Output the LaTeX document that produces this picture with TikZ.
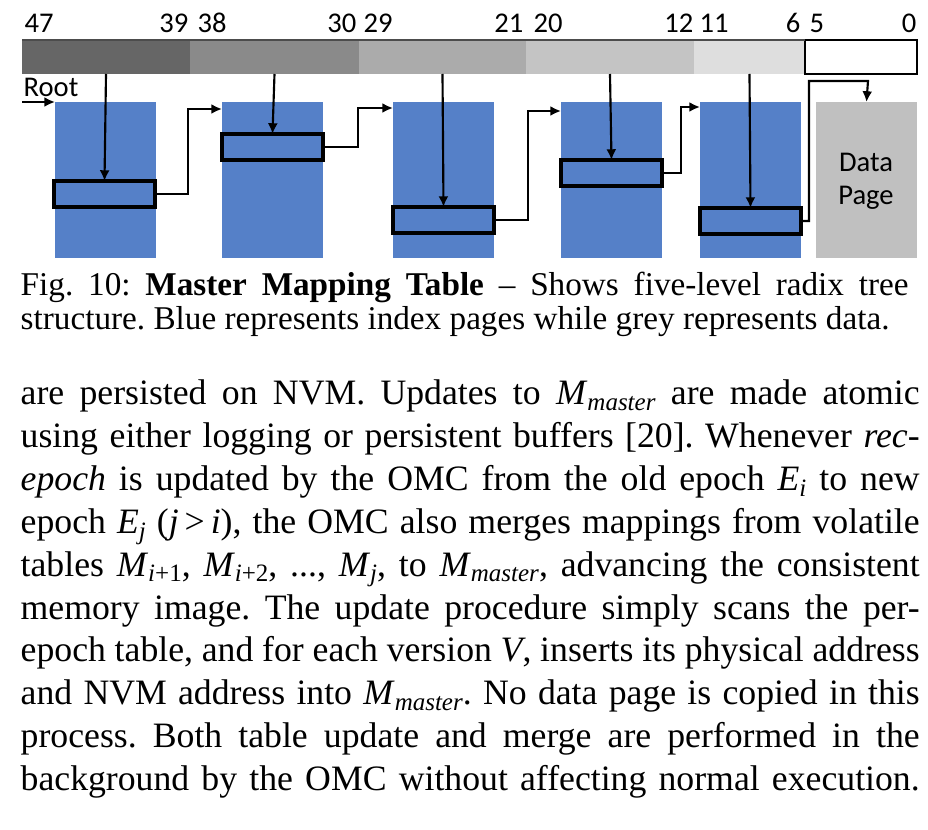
\documentclass[tikz,border=0pt]{standalone}
\usepackage{fontspec}
\setmainfont{Liberation Serif}
\newfontfamily\calibri{Carlito}
\usetikzlibrary{arrows.meta,calc}
\frenchspacing

\definecolor{idxblue}{RGB}{85,128,200}
\definecolor{datagrey}{RGB}{192,192,192}

% italic symbol with a small lowered index
\newcommand{\sym}[2]{\textit{#1}\raisebox{-0.35ex}{\fontsize{7}{7}\selectfont #2}}
\newcommand{\fullline}[1]{\makebox[251.72pt][s]{#1}}

\tikzset{
  seg/.style={minimum height=34*0.28pt, inner sep=0pt, outer sep=0pt},
  bits/.style={font=\calibri\fontsize{8}{9}\selectfont, inner sep=0pt},
  idxpage/.style={fill=idxblue, minimum width=101*0.28pt, minimum height=156*0.28pt,
    inner sep=0pt, outer sep=0pt, anchor=north west},
  entry/.style={draw=black, line width=0.85pt, fill=idxblue, minimum width=101*0.28pt,
    minimum height=26*0.28pt, inner sep=0pt, outer sep=0pt, anchor=north west},
  link/.style={line width=0.6pt, -{Latex[length=3pt,width=2.8pt]}},
  txt/.style={font=\fontsize{10}{12}\selectfont, inner sep=0pt, anchor=base west},
  captxt/.style={font=\fontsize{9.3}{10}\selectfont, inner sep=0pt, anchor=base west}
}

\begin{document}
\begin{tikzpicture}[x=0.28pt, y=-0.28pt]
\useasboundingbox (0,0) rectangle (928,830);

% address bar
\node[seg, fill=black!60, minimum width=168*0.28pt, anchor=north west] (seg1) at (22,40) {};
\node[seg, fill=black!46, minimum width=169*0.28pt, anchor=north west] (seg2) at (190,40) {};
\node[seg, fill=black!33, minimum width=167*0.28pt, anchor=north west] (seg3) at (359,40) {};
\node[seg, fill=black!23, minimum width=168*0.28pt, anchor=north west] (seg4) at (526,40) {};
\node[seg, fill=black!13, minimum width=111*0.28pt, anchor=north west] (seg5) at (694,40) {};
\node[seg, fill=white, draw=black, line width=0.5pt, minimum width=112*0.28pt, anchor=north west] (seg6) at (805,40) {};
\draw[black!70, line width=0.3pt] (seg1.north west) -- (seg6.north west);

% bit numbers
\node[bits, anchor=base west] (b47) at (24,33) {47};
\node[bits, anchor=base east] (b39) at (189,33) {39};
\node[bits, anchor=base west] (b38) at (197,33) {38};
\node[bits, anchor=base east] (b30) at (357,33) {30};
\node[bits, anchor=base west] (b29) at (363,33) {29};
\node[bits, anchor=base east] (b21) at (524,33) {21};
\node[bits, anchor=base west] (b20) at (533,33) {20};
\node[bits, anchor=base east] (b12) at (694,33) {12};
\node[bits, anchor=base west] (b11) at (699,33) {11};
\node[bits, anchor=base east] (b6) at (801,33) {6};
\node[bits, anchor=base west] (b5) at (809,33) {5};
\node[bits, anchor=base east] (b0) at (917,33) {0};

% index pages and data page
\node[idxpage] (blk1) at (55,102) {};
\node[idxpage] (blk2) at (222,102) {};
\node[idxpage] (blk3) at (393,102) {};
\node[idxpage] (blk4) at (561,102) {};
\node[idxpage] (blk5) at (700,102) {};
\node[idxpage, fill=datagrey] (data) at (816,102) {};
\node[font=\calibri\fontsize{8}{9.3}\selectfont, align=center] (datatxt) at (866,181) {Data\\Page};

% entries
\node[entry] (ent1) at (54,181) {};
\node[entry] (ent2) at (222,134) {};
\node[entry] (ent3) at (393,207) {};
\node[entry] (ent4) at (561,160) {};
\node[entry] (ent5) at (700,208) {};

% root pointer
\coordinate (rootin) at (22,102);
\node[bits, anchor=base west] (root) at (23,97) {Root};
\draw[link] (rootin) -- (blk1.north west);

% bit fields select the entries
\foreach \i in {1,...,5}
  \draw[link] (seg\i.south) -- (ent\i.north);

% entries point to the next level
\foreach \a/\b/\dx/\dy in {1/2/33/7, 2/3/35/6, 3/4/34/9, 4/5/19/5}
  \draw[link] (ent\a.east) -- ++(\dx,0) |- ($(blk\b.north west)+(0,\dy)$);
\draw[link] (ent5.east) -- ++(8,0) |- ++(59,-140) -- (data.north);

% caption
\node[captxt] (cap1) at (20,296) {\makebox[248.64pt][s]{Fig. 10: \textbf{Master Mapping Table} -- Shows five-level radix tree}};
\node[captxt] (cap2) at (20,330) {structure. Blue represents index pages while grey represents data.};

% body text
\node[txt] (l1) at (20,405.0) {\fullline{are persisted on NVM. Updates to \sym{M}{\textit{master}} are made atomic}};
\node[txt] (l2) at (20,447.8) {\fullline{using either logging or persistent buffers [20]. Whenever \textit{rec-}}};
\node[txt] (l3) at (20,490.6) {\fullline{\textit{epoch} is updated by the OMC from the old epoch \sym{E}{\textit{i}} to new}};
\node[txt] (l4) at (20,533.4) {\fullline{epoch \sym{E}{\textit{j}} (\textit{j}\,>\,\textit{i}), the OMC also merges mappings from volatile}};
\node[txt] (l5) at (20,576.2) {\fullline{tables \sym{M}{\textit{i}+1}, \sym{M}{\textit{i}+2}, ..., \sym{M}{\textit{j}}, to \sym{M}{\textit{master}}, advancing the consistent}};
\node[txt] (l6) at (20,619.0) {\fullline{memory image. The update procedure simply scans the per-}};
\node[txt] (l7) at (20,661.8) {\fullline{epoch table, and for each version \textit{V}, inserts its physical address}};
\node[txt] (l8) at (20,704.6) {\fullline{and NVM address into \sym{M}{\textit{master}}. No data page is copied in this}};
\node[txt] (l9) at (20,747.4) {\fullline{process. Both table update and merge are performed in the}};
\node[txt] (l10) at (20,790.2) {\fullline{background by the OMC without affecting normal execution.}};
\end{tikzpicture}
\end{document}
